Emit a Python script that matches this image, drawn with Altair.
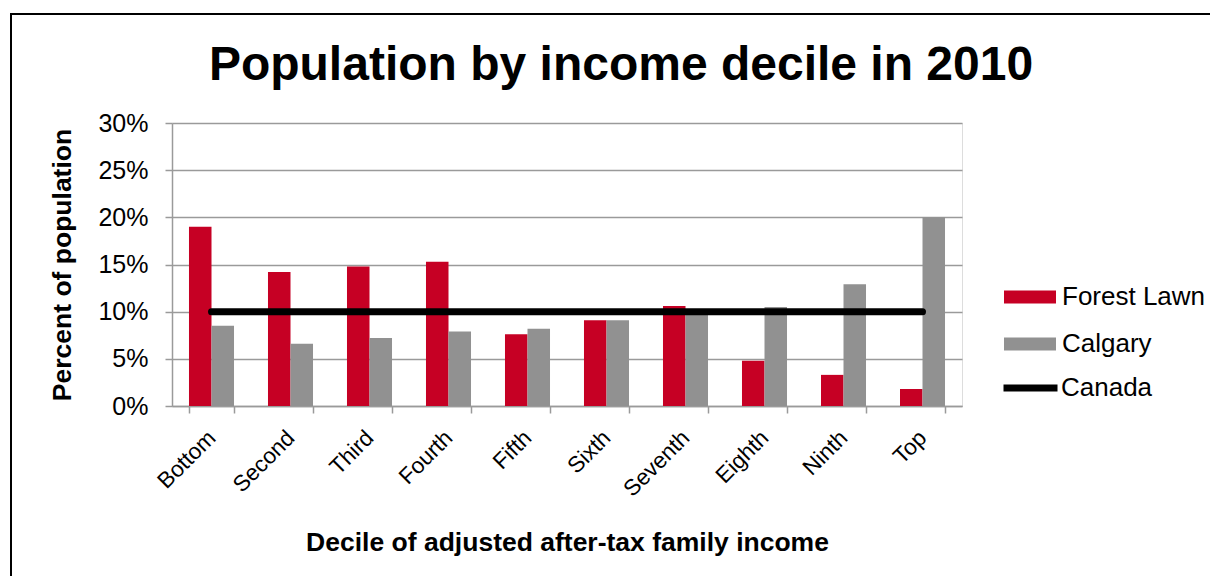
import altair as alt
import pandas as pd

deciles = ["Bottom", "Second", "Third", "Fourth", "Fifth", "Sixth",
           "Seventh", "Eighth", "Ninth", "Top"]
forest_lawn = [19.0, 14.2, 14.8, 15.3, 7.6, 9.1, 10.6, 4.8, 3.3, 1.8]
calgary = [8.5, 6.6, 7.2, 7.9, 8.2, 9.1, 10.1, 10.5, 12.9, 20.0]
canada = [10.0] * 10
bar_series = ["Forest Lawn", "Calgary"]
bar_colors = ["#C60024", "#919191"]
y_ticks = [0, 0.05, 0.10, 0.15, 0.20, 0.25, 0.30]

rows = []
for d, f, c in zip(deciles, forest_lawn, calgary):
    rows.append({"decile": d, "series": "Forest Lawn", "value": f / 100})
    rows.append({"decile": d, "series": "Calgary", "value": c / 100})
bars_df = pd.DataFrame(rows)
line_df = pd.DataFrame({"decile": deciles, "series": "Canada",
                        "value": [v / 100 for v in canada]})

FONT = "Liberation Sans"
GRAY = "#9A9A9A"

x_enc = alt.X("decile:N", sort=deciles,
              scale=alt.Scale(domain=deciles, paddingInner=0.43, paddingOuter=0.215),
              axis=alt.Axis(title="Decile of adjusted after-tax family income",
                            labelAngle=315, labelAlign="right", labelBaseline="middle",
                            labelFontSize=22.5, labelPadding=21, labelFont=FONT,
                            labelColor="black",
                            tickBand="extent", tickSize=7, tickColor=GRAY, tickWidth=1.5,
                            domainColor=GRAY, domainWidth=1.5, grid=False,
                            titleFontSize=26.5, titleFont=FONT, titleFontWeight="bold",
                            titleX=395, titleY=136, titleBaseline="middle",
                            titleAlign="center", titleColor="black"))

y_enc = alt.Y("value:Q",
              scale=alt.Scale(domain=[0, 0.30], nice=False),
              axis=alt.Axis(title="Percent of population", values=y_ticks, format=".0%",
                            labelFontSize=25, labelFont=FONT, labelColor="black",
                            labelPadding=17, tickSize=7, tickColor=GRAY, tickWidth=1.5,
                            domainColor=GRAY, domainWidth=1.5,
                            grid=True, gridColor=GRAY, gridWidth=1.5,
                            titleFontSize=26.5, titleFont=FONT, titleFontWeight="bold",
                            titleX=-110, titleY=141.5, titleAngle=270,
                            titleAlign="center", titleBaseline="middle",
                            titleColor="black"))

bars = alt.Chart(bars_df).mark_bar().encode(
    x=x_enc,
    xOffset=alt.XOffset("series:N", sort=bar_series,
                        scale=alt.Scale(domain=bar_series, paddingInner=0, paddingOuter=0)),
    y=y_enc,
    fill=alt.Fill("series:N", sort=bar_series,
                  scale=alt.Scale(domain=bar_series, range=bar_colors),
                  legend=alt.Legend(title=None, orient="none", legendX=832, legendY=162,
                                    symbolType="M-1,-0.25H1V0.25H-1Z", symbolSize=2704,
                                    symbolStrokeWidth=0, clipHeight=24, rowPadding=21,
                                    labelFontSize=26, labelFont=FONT, labelColor="black",
                                    labelOffset=6, padding=0)),
)

line = alt.Chart(line_df).mark_line(strokeWidth=7, strokeCap="round").encode(
    x=alt.X("decile:N", sort=deciles),
    y=alt.Y("value:Q"),
    stroke=alt.Stroke("series:N",
                      scale=alt.Scale(domain=["Canada"], range=["black"]),
                      legend=alt.Legend(title=None, orient="none", legendX=828, legendY=253,
                                        symbolType="stroke", symbolSize=2916,
                                        symbolStrokeWidth=7, clipHeight=24,
                                        labelFontSize=26, labelFont=FONT,
                                        labelColor="black", labelOffset=0, padding=0)),
)

border = alt.Chart(pd.DataFrame({"a": [0]})).mark_rect(
    fillOpacity=0, stroke="black", strokeWidth=2
).encode(x=alt.value(-161), x2=alt.value(1200), y=alt.value(-109), y2=alt.value(800))

chart = alt.layer(border, bars, line).properties(
    width=790, height=283,
    title=alt.Title("Population by income decile in 2010", fontSize=48, font=FONT,
                    fontWeight="bold", color="black", anchor="middle", frame="group",
                    dx=54, dy=77, offset=0),
    autosize=alt.AutoSizeParams(type="none"),
    padding={"left": 164, "top": 115, "right": 248, "bottom": 170},
).configure_view(stroke=None).configure(font=FONT)

chart.save("out.html", embed_options={"renderer": "svg", "actions": False})
